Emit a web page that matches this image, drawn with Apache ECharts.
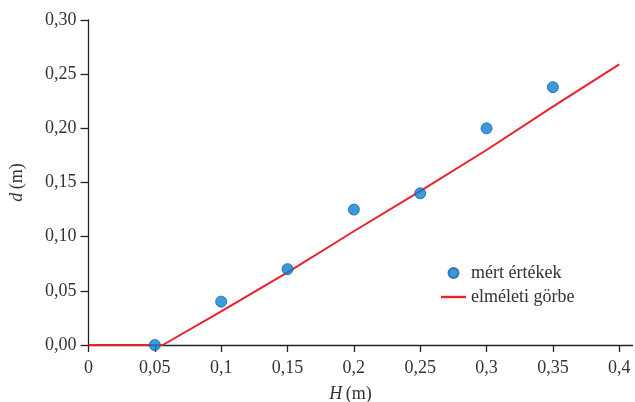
<!DOCTYPE html>
<html>
<head>
<meta charset="utf-8">
<script src="https://cdn.jsdelivr.net/npm/echarts@6/dist/echarts.min.js"></script>
<style>html,body{margin:0;padding:0;background:#fff}#c{width:635px;height:402px}</style>
</head>
<body>
<div id="c"></div>
<script>
const measuredH = [0.05, 0.1, 0.15, 0.2, 0.25, 0.3, 0.35];
const measuredD = [0.0, 0.04, 0.07, 0.125, 0.14, 0.2, 0.238];
const theoryH = [0, 0.056, 0.1, 0.15, 0.2, 0.25, 0.3, 0.35, 0.4];
const theoryD = [0, 0, 0.031, 0.067, 0.105, 0.142, 0.18, 0.22, 0.259];
const xTicks = [0, 0.05, 0.1, 0.15, 0.2, 0.25, 0.3, 0.35, 0.4];
const yTicks = [0, 0.05, 0.1, 0.15, 0.2, 0.25, 0.3];
const seriesNames = ['mért értékek', 'elméleti görbe'];

const FONT = '"Liberation Serif", "DejaVu Serif", serif';
const TXT = '#333';
const AX = '#222';
const chart = echarts.init(document.getElementById('c'), null, {renderer: 'canvas'});
chart.setOption({
  animation: false,
  textStyle: {fontFamily: FONT},
  grid: {left: 88.5, right: 2.5, top: 20, bottom: 57, outerBoundsMode: 'none', containLabel: false},
  legend: {
    orient: 'vertical', left: 436, top: 259, itemWidth: 25, itemHeight: 10, itemGap: 6,
    textStyle: {fontFamily: FONT, fontSize: 18, color: TXT},
    data: [
      {name: seriesNames[0], icon: 'circle'},
      {name: seriesNames[1], icon: 'path://M0,0 L25,0 L25,2.4 L0,2.4 Z'}
    ]
  },
  xAxis: {
    type: 'value', min: 0, max: 0.41, interval: 0.05,
    splitLine: {show: false},
    axisLine: {lineStyle: {color: AX, width: 1.3}},
    axisTick: {customValues: xTicks, length: 7, lineStyle: {color: AX, width: 1.3}},
    axisLabel: {customValues: xTicks, fontFamily: FONT, fontSize: 18, color: TXT, margin: 14,
      formatter: v => String(+v.toFixed(2)).replace('.', ',')},
    name: '{i|H}\u2009(m)', nameLocation: 'middle', nameGap: 40,
    nameTextStyle: {fontFamily: FONT, fontSize: 18, color: TXT, padding: [0, 20, 0, 0],
      rich: {i: {fontFamily: FONT, fontSize: 18, fontStyle: 'italic', color: TXT}}}
  },
  yAxis: {
    type: 'value', min: 0, max: 0.3, interval: 0.05,
    splitLine: {show: false},
    axisLine: {lineStyle: {color: AX, width: 1.3}},
    axisTick: {customValues: yTicks, length: 8, lineStyle: {color: AX, width: 1.3}},
    axisLabel: {customValues: yTicks, fontFamily: FONT, fontSize: 18, color: TXT, margin: 12,
      formatter: v => v.toFixed(2).replace('.', ',')},
    name: '{i|d}\u2009(m)', nameLocation: 'middle', nameGap: 62, nameRotate: 90,
    nameTextStyle: {fontFamily: FONT, fontSize: 18, color: TXT,
      rich: {i: {fontFamily: FONT, fontSize: 18, fontStyle: 'italic', color: TXT}}}
  },
  series: [
    {
      name: seriesNames[1], type: 'line', symbol: 'none', showSymbol: false,
      data: theoryH.map((h, i) => [h, theoryD[i]]),
      lineStyle: {color: '#e8212b', width: 2}, itemStyle: {color: '#e8212b'}, z: 2
    },
    {
      name: seriesNames[0], type: 'scatter', symbol: 'circle', symbolSize: 11,
      data: measuredH.map((h, i) => [h, measuredD[i]]),
      itemStyle: {color: '#0a7fd4', borderColor: '#1a5f9e', borderWidth: 1}, z: 3
    }
  ]
});
</script>
</body>
</html>
